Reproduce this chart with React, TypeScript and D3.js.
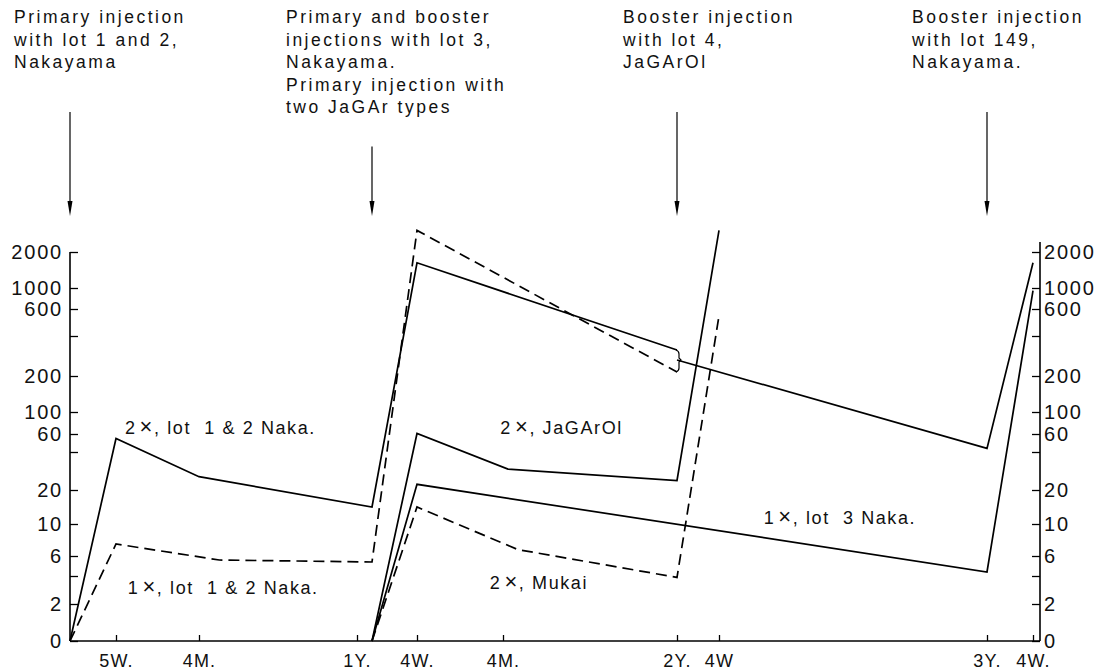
import { useEffect, useRef } from "react";
import * as d3 from "d3";

// time is counted in weeks after the first injection
const breakWeeks = [0, 5, 17, 52, 56, 69, 104, 108, 156, 160, 161.5];
const xTickWeeks = [5, 17, 52, 56, 69, 104, 108, 156, 160];
const xTickLabels = ["5W.", "4M.", "1Y.", "4W.", "4M.", "2Y.", "4W", "3Y.", "4W."];

// the titre axis is drawn unevenly in the original, one step per labelled titre
const yStepValues = [0, 2, 4, 6, 10, 20, 40, 60, 100, 200, 400, 600, 1000, 2000, 4000];
const yTickValues = [0, 2, 4, 6, 10, 20, 40, 60, 100, 200, 400, 600, 1000, 2000];
const yTickLabels = ["0", "2", "", "6", "10", "20", "", "60", "100", "200", "", "600", "1000", "2000"];

// [week, titre]
const lot12Twice = [[0, 0], [5, 55], [17, 27], [53, 15], [56, 1700], [104, 330]];
const lot12Once = [[0, 0], [5, 7.5], [21.5, 5.6], [53, 5.4], [56, 3200], [104, 220]];
const lot12Merged = [[104, 280], [156, 44], [160, 1700]];
const jagarTwice = [[53, 0], [56, 61], [70, 31], [104, 25], [108, 3200]];
const lot3Once = [[53, 0], [56, 23], [156, 4.4], [160, 950]];
const mukaiTwice = [[53, 0], [56, 15], [72, 6.8], [104, 3.9], [108, 550]];

const solidSeries = [lot12Twice, lot12Merged, jagarTwice, lot3Once];
const dashedSeries = [lot12Once, mukaiTwice];

const seriesTimes = ["2", "1", "2", "2", "1"];
const seriesNames = [", lot  1 & 2 Naka.", ", lot  1 & 2 Naka.", ", JaGArOl", ", Mukai", ", lot  3 Naka."];
const nameWeeks = [6.3, 6.7, 68.6, 67, 116];
const nameTitres = [60, 2.7, 60, 3.1, 10];

const injectionWeeks = [0, 53, 104, 156];
const injectionNotes = [
  ["Primary injection", "with lot 1 and 2,", "Nakayama"],
  ["Primary and booster", "injections with lot 3,", "Nakayama.", "Primary injection with", "two JaGAr types"],
  ["Booster injection", "with lot 4,", "JaGArOl"],
  ["Booster injection", "with lot 149,", "Nakayama."],
];
const noteLeft = [14, 286, 623, 912];

const FONT = "'Liberation Sans', Arial, sans-serif";

export default function App() {
  const xAxisRef = useRef<SVGGElement>(null);
  const leftRef = useRef<SVGGElement>(null);
  const rightRef = useRef<SVGGElement>(null);

  const x = d3.scaleLinear().domain(breakWeeks)
    .range([70, 116, 199, 357, 417, 503, 677, 719, 987, 1033, 1040]);
  const y = d3.scaleLinear().domain(yStepValues)
    .range([641, 604, 576, 556, 524, 490, 452, 434, 412, 376, 336, 309, 288, 252, 216]);

  const line = d3.line<number[]>().x((d) => x(d[0])).y((d) => y(d[1]));
  const x0 = x(0), x1 = x(161.5), yBottom = y(0), yTop = y(2000);

  useEffect(() => {
    const style = (g: any, size: number, spacing: number) => {
      g.select(".domain").remove();
      g.attr("font-family", FONT).attr("font-size", size);
      g.selectAll("line").attr("stroke", "#000").attr("stroke-width", 1.3);
      g.selectAll("text").attr("fill", "#111").attr("letter-spacing", spacing);
    };
    const bottom = d3.select(xAxisRef.current)
      .call(d3.axisBottom(x).tickValues(xTickWeeks)
        .tickFormat((d, i) => xTickLabels[i])
        .tickSizeInner(-6).tickSizeOuter(0).tickPadding(13) as any);
    style(bottom, 18, 1.2);

    const left = d3.select(leftRef.current)
      .call(d3.axisLeft(y).tickValues(yTickValues)
        .tickFormat((d, i) => yTickLabels[i])
        .tickSizeInner(-8).tickSizeOuter(0).tickPadding(7) as any);
    style(left, 20, 1.8);

    const right = d3.select(rightRef.current)
      .call(d3.axisRight(y).tickValues(yTickValues)
        .tickFormat((d, i) => yTickLabels[i])
        .tickSizeInner(-8).tickSizeOuter(0).tickPadding(4) as any);
    style(right, 20, 1.8);
  }, []);

  // curly joint where the two lot 1 & 2 groups merge at 2Y
  const bx = x(104);
  const bTop = y(330), bBot = y(220), bMid = y(280);
  const bracket = `M${bx - 1},${bTop} q3,1 3,4 L${bx + 2},${bMid - 2} l2,2 l-2,2 L${bx + 2},${bBot - 4} q0,3 -3,4`;

  return (
    <svg width={1097} height={670} style={{ position: "absolute", left: 0, top: 0, background: "#fff" }}>
      {injectionNotes.map((lines, i) => {
        const ax = x(injectionWeeks[i]);
        const top = Math.max(112, 24 + lines.length * 22.5 + 10);
        return (
          <g key={i}>
            <text x={noteLeft[i]} y={23} fontFamily={FONT} fontSize={17.5} letterSpacing={2.5} fill="#111">
              {lines.map((t, j) => (
                <tspan key={j} x={noteLeft[i]} dy={j === 0 ? 0 : 22.5}>{t}</tspan>
              ))}
            </text>
            <line x1={ax} x2={ax} y1={top} y2={201} stroke="#000" strokeWidth={1.2} />
            <path d={`M${ax - 2.5},${201} L${ax},${216} L${ax + 2.5},${201} Z`} fill="#000" />
          </g>
        );
      })}

      <g ref={xAxisRef} transform={`translate(0,${yBottom})`} />
      <g ref={leftRef} transform={`translate(${x0},0)`} />
      <g ref={rightRef} transform={`translate(${x1},0)`} />
      <line x1={x0} x2={x1} y1={yBottom} y2={yBottom} stroke="#000" strokeWidth={1.6} />
      <line x1={x0} x2={x0} y1={yTop} y2={yBottom} stroke="#000" strokeWidth={1.6} />
      <line x1={x1} x2={x1} y1={yTop - 10} y2={yBottom} stroke="#000" strokeWidth={1.6} />

      {solidSeries.map((s, i) => (
        <path key={"s" + i} d={line(s) ?? ""} fill="none" stroke="#000" strokeWidth={1.7} strokeLinejoin="miter" />
      ))}
      {dashedSeries.map((s, i) => (
        <path key={"d" + i} d={line(s) ?? ""} fill="none" stroke="#000" strokeWidth={1.7} strokeDasharray="11 6" />
      ))}
      <path d={bracket} fill="none" stroke="#000" strokeWidth={1.2} />

      {seriesNames.map((n, i) => (
        <text key={i} x={x(nameWeeks[i])} y={y(nameTitres[i])} fontFamily={FONT} fontSize={18} letterSpacing={1.6} fill="#111" style={{ whiteSpace: "pre" }}>
          {seriesTimes[i]}
          <tspan dx={3} fontSize={22} fontWeight={300}>×</tspan>
          {n}
        </text>
      ))}
    </svg>
  );
}
